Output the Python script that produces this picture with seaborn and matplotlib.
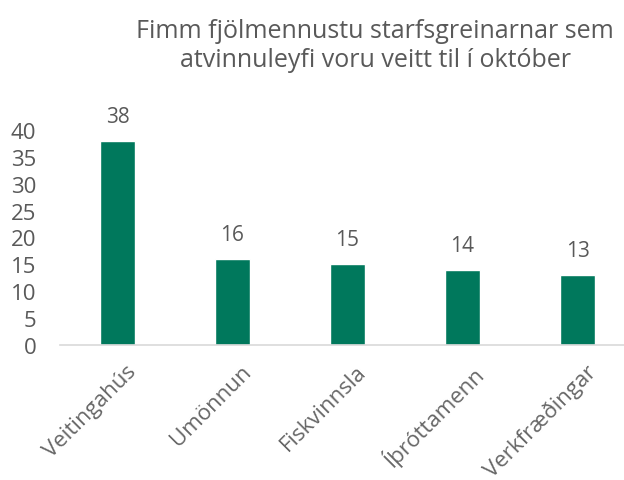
import matplotlib
matplotlib.use('Agg')
import matplotlib.pyplot as plt
import matplotlib.transforms as mtransforms
import seaborn as sns
import pandas as pd

# gögn
starfsgreinar = ['Veitingahús', 'Umönnun', 'Fiskvinnsla', 'Íþróttamenn', 'Verkfræðingar']
fjoldi = [38, 16, 15, 14, 13]

sns.set_style('white')
plt.rcParams['font.family'] = ['Open Sans', 'DejaVu Sans']

grey = '#595959'
green = '#00785C'

df = pd.DataFrame({'starf': starfsgreinar, 'fjoldi': fjoldi})

fig = plt.figure(figsize=(6.24, 4.81), dpi=100)
ax = fig.add_axes([60 / 624, 1 - 346 / 481, 575 / 624, 215 / 481])

sns.barplot(data=df, x='starf', y='fjoldi', color=green, width=0.31,
            saturation=1, ax=ax)

ax.set_ylim(0, 40)
ax.set_xlim(-0.5, 4.5)
ax.set_yticks(range(0, 41, 5))
ax.set_xlabel('')
ax.set_ylabel('')
for s in ['top', 'right', 'left']:
    ax.spines[s].set_visible(False)
ax.spines['bottom'].set_color('#d9d9d9')
ax.spines['bottom'].set_linewidth(1.2)
ax.tick_params(axis='y', length=0, labelsize=16, labelcolor=grey, pad=17)
ax.tick_params(axis='x', length=0, labelsize=16, labelcolor='#666666', pad=11)
# skáletraðir merkimiðar, aðeins til hægri
offset = mtransforms.ScaledTranslation(6 / 72, 0, fig.dpi_scale_trans)
for lab in ax.get_xticklabels():
    lab.set_rotation(45)
    lab.set_ha('right')
    lab.set_rotation_mode('anchor')
    lab.set_transform(lab.get_transform() + offset)

for c in ax.containers:
    ax.bar_label(c, labels=[str(v) for v in fjoldi], padding=10,
                 fontsize=15, color=grey, clip_on=False)

fig.text(375 / 624, 1 - 46 / 481,
         'Fimm fjölmennustu starfsgreinarnar sem\natvinnuleyfi voru veitt til í október',
         ha='center', va='center', fontsize=18, color=grey, linespacing=1.25)

fig.savefig('out.png', dpi=100)
